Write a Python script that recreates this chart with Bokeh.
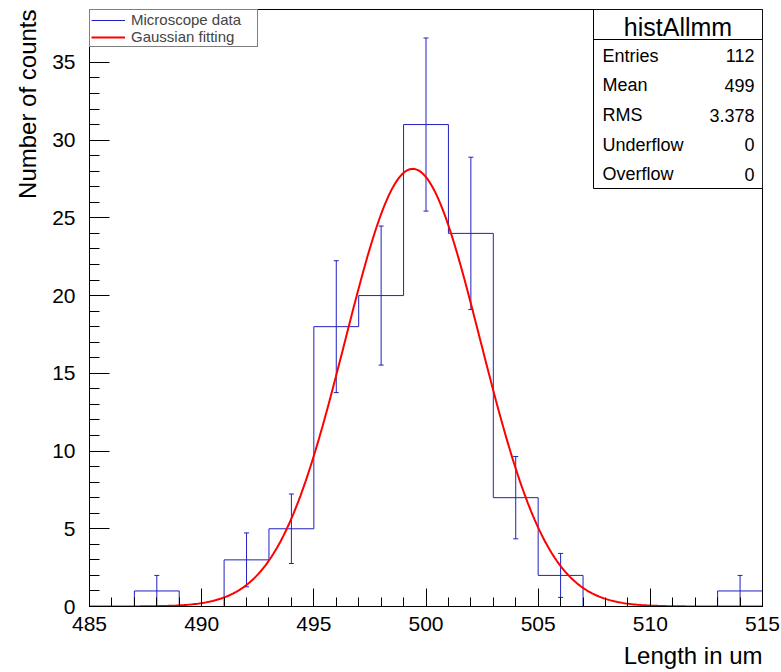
import numpy as np
from bokeh.plotting import figure
from bokeh.models import (Range1d, SingleIntervalTicker, Label, BoxAnnotation,
                          Legend, LegendItem, Title)
from bokeh.embed import file_html
from bokeh.resources import INLINE

# ---------------- data ----------------
bin_edges = [485, 487, 489, 491, 493, 495, 497, 499, 501, 503, 505, 507, 509, 511, 513, 515]
counts = [0, 1, 0, 3, 5, 18, 20, 31, 24, 7, 2, 0, 0, 0, 1]
fit_constant = 28.15
fit_mean = 499.41
fit_sigma = 3.02
stats_title = "histAllmm"
stats_names = ["Entries", "Mean", "RMS", "Underflow", "Overflow"]
stats_values = ["112", "499", "3.378", "0", "0"]
x_title = "Length in um"
y_title = "Number of counts"
legend_labels = ["Microscope data", "Gaussian fitting"]

XMIN, XMAX = 485, 515
YMIN, YMAX = 0, 38.4

# ---------------- geometry helpers (page pixels -> data) ----------------
FX0, FX1, FY0, FY1 = 89, 762, 9, 606
def dx(px):
    return XMIN + (px - FX0) * (XMAX - XMIN) / (FX1 - FX0)
def dy(py):
    return YMIN + (FY1 - py) * (YMAX - YMIN) / (FY1 - FY0)

FONT = "Liberation Sans"
BLUE = "#2020c0"
RED = "#ff0000"

p = figure(width=781, height=672, output_backend="svg", toolbar_location=None,
           x_range=Range1d(XMIN, XMAX), y_range=Range1d(YMIN, YMAX),
           min_border_left=FX0, min_border_right=781 - FX1, min_border_top=FY0,
           min_border_bottom=672 - FY1, frame_width=FX1 - FX0, frame_height=FY1 - FY0)
p.background_fill_color = "white"
p.border_fill_color = "white"
p.outline_line_color = "black"
p.outline_line_width = 1
p.xgrid.visible = False
p.ygrid.visible = False

# axes
p.xaxis.ticker = SingleIntervalTicker(interval=5, num_minor_ticks=5)
p.yaxis.ticker = SingleIntervalTicker(interval=5, num_minor_ticks=5)
for ax in (p.xaxis, p.yaxis):
    ax.axis_line_color = "black"
    ax.major_tick_line_color = "black"
    ax.minor_tick_line_color = "black"
    ax.major_tick_out = 0
    ax.minor_tick_out = 0
    ax.major_label_text_font = FONT
    ax.major_label_text_font_size = "21px"
    ax.major_label_text_color = "black"
p.xaxis.major_tick_in = 18
p.xaxis.minor_tick_in = 9
p.yaxis.major_tick_in = 20
p.yaxis.minor_tick_in = 10
p.xaxis.major_label_standoff = 10
p.yaxis.major_label_standoff = 14

# histogram outline
edges = np.array(bin_edges, dtype=float)
cnt = np.array(counts, dtype=float)
step_y = np.append(cnt, cnt[-1])
r_hist = p.step(x=edges, y=step_y, mode="after", line_color=BLUE, line_width=1)

# error bars
centers = (edges[:-1] + edges[1:]) / 2
err = np.sqrt(cnt)
m = cnt > 0
p.segment(x0=centers[m], y0=(cnt - err)[m], x1=centers[m], y1=(cnt + err)[m],
          line_color=BLUE, line_width=1)
p.scatter(x=centers[m], y=(cnt + err)[m], marker="dash", size=5, line_color=BLUE)
p.scatter(x=centers[m], y=(cnt - err)[m], marker="dash", size=5, line_color=BLUE)

# gaussian fit
xf = np.linspace(XMIN, XMAX, 400)
yf = fit_constant * np.exp(-0.5 * ((xf - fit_mean) / fit_sigma) ** 2)
r_fit = p.line(x=xf, y=yf, line_color=RED, line_width=2)

# legend
legend = Legend(items=[LegendItem(label=legend_labels[0], renderers=[r_hist]),
                       LegendItem(label=legend_labels[1], renderers=[r_fit])],
                location="top_left", margin=0, padding=1, spacing=0,
                label_height=16, glyph_height=16, glyph_width=34,
                label_width=125, label_standoff=6,
                label_text_font=FONT, label_text_font_size="15px",
                border_line_color="black", border_line_width=1,
                background_fill_color="white", background_fill_alpha=1)
p.add_layout(legend)

# stats box
p.add_layout(BoxAnnotation(left=dx(593), right=XMAX, bottom=dy(188), top=YMAX,
                           fill_color="white", fill_alpha=1,
                           line_color="black", line_width=1, line_alpha=1))
p.add_layout(BoxAnnotation(left=dx(593), right=XMAX, bottom=dy(39), top=YMAX,
                           fill_alpha=0, line_color="black", line_width=1, line_alpha=1))
p.add_layout(Label(x=dx(677.5), y=dy(26.8), text=stats_title, text_align="center",
                   text_baseline="alphabetic", text_font=FONT, text_font_size="25px",
                   text_color="black"))
for i, (nm, val) in enumerate(zip(stats_names, stats_values)):
    base = 55.3 + i * 29.6
    p.add_layout(Label(x=dx(602), y=dy(base), text=nm, text_align="left",
                       text_baseline="alphabetic", text_font=FONT,
                       text_font_size="18px", text_color="black"))
    p.add_layout(Label(x=dx(754), y=dy(base), text=val, text_align="right",
                       text_baseline="alphabetic", text_font=FONT,
                       text_font_size="18px", text_color="black"))

# axis titles
p.add_layout(Title(text=x_title, align="right", text_font=FONT, text_font_size="24px",
                   text_font_style="normal", text_color="black", standoff=12), "below")
p.add_layout(Title(text=y_title, align="right", text_font=FONT, text_font_size="24px",
                   text_font_style="normal", text_color="black", standoff=18), "left")

open("out.html", "w").write(file_html(p, INLINE))
